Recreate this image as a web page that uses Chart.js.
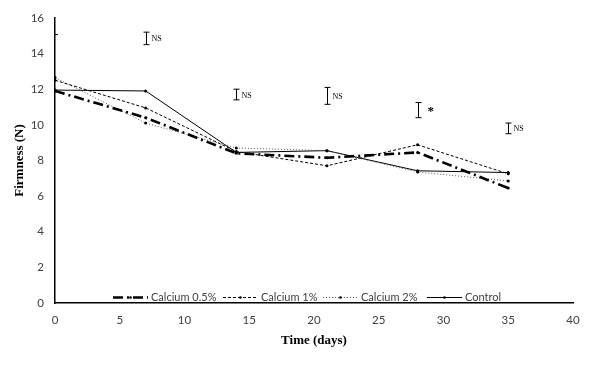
<!DOCTYPE html>
<html>
<head>
<meta charset="utf-8">
<script src="https://cdn.jsdelivr.net/npm/chart.js@4.4.1/dist/chart.umd.min.js"></script>
<style>
  html, body { margin: 0; padding: 0; background: #fff; }
  #wrap { width: 590px; height: 365px; }
</style>
</head>
<body>
<div id="wrap"><canvas id="firm" width="590" height="365"></canvas></div>
<script>
const days = [0, 7, 14, 21, 28, 35];
const ca05 = [11.9, 10.4, 8.4, 8.15, 8.45, 6.45];
const ca1 = [12.5, 10.95, 8.5, 7.7, 8.88, 7.25];
const ca2 = [12.65, 10.1, 8.7, 8.55, 7.35, 6.85];
const control = [11.95, 11.9, 8.45, 8.55, 7.42, 7.32];

// error bars drawn above each sampling day
const errDays = [7, 14, 21, 28, 35];
const errHigh = [15.2, 12.0, 12.1, 11.25, 10.1];
const errLow = [14.5, 11.4, 11.15, 10.4, 9.5];
const errLabels = ['NS', 'NS', 'NS', '*', 'NS'];

const xTicks = [0, 5, 10, 15, 20, 25, 30, 35, 40];
const yTicks = [0, 2, 4, 6, 8, 10, 12, 14, 16];

const pts = (ys) => days.map((d, i) => ({ x: d, y: ys[i] }));

const series = [
  { label: 'Calcium 0.5%', data: ca05, width: 2.6, dash: [10, 4, 2, 4], color: '#000' },
  { label: 'Calcium 1%', data: ca1, width: 1, dash: [3, 2], color: '#000' },
  { label: 'Calcium 2%', data: ca2, width: 1, dash: [1, 2], color: '#555' },
  { label: 'Control', data: control, width: 1, dash: [], color: '#000' }
];

const tickFont = { family: 'Lato, "Open Sans", sans-serif', size: 11.5 };

const errorBars = {
  id: 'errorBars',
  afterDatasetsDraw(chart) {
    const { ctx, scales: { x, y } } = chart;
    ctx.save();
    ctx.strokeStyle = '#000';
    ctx.lineWidth = 1;
    errDays.forEach((d, i) => {
      const px = Math.round(x.getPixelForValue(d)) + 0.5;
      const top = y.getPixelForValue(errHigh[i]);
      const bot = y.getPixelForValue(errLow[i]);
      ctx.beginPath();
      ctx.moveTo(px, top); ctx.lineTo(px, bot);
      ctx.moveTo(px - 3, top); ctx.lineTo(px + 3, top);
      ctx.moveTo(px - 3, bot); ctx.lineTo(px + 3, bot);
      ctx.stroke();
      ctx.fillStyle = '#000';
      ctx.textBaseline = 'middle';
      ctx.textAlign = 'left';
      if (errLabels[i] === '*') {
        ctx.font = 'bold 13px "Liberation Serif"';
        ctx.fillText('*', px + 9, (top + bot) / 2 + 2);
      } else {
        ctx.font = '8px "Liberation Serif"';
        ctx.fillText(errLabels[i], px + 5, (top + bot) / 2 + 1);
      }
    });
    // little stray cap at day 0
    const sy = Math.round(y.getPixelForValue(15.1)) + 0.5;
    const sx = x.getPixelForValue(0);
    ctx.beginPath();
    ctx.moveTo(sx, sy); ctx.lineTo(sx + 3, sy);
    ctx.stroke();
    ctx.restore();
  }
};

const innerLegend = {
  id: 'innerLegend',
  afterDraw(chart) {
    const { ctx } = chart;
    const ly = 297;
    const starts = [113, 223, 323, 427];
    ctx.save();
    ctx.font = '11px Lato, "Open Sans", sans-serif';
    ctx.textBaseline = 'middle';
    ctx.textAlign = 'left';
    series.forEach((s, i) => {
      const x0 = starts[i];
      ctx.strokeStyle = s.color;
      ctx.lineWidth = s.width;
      ctx.setLineDash(s.dash);
      ctx.beginPath();
      ctx.moveTo(x0, ly + 0.5); ctx.lineTo(x0 + 35, ly + 0.5);
      ctx.stroke();
      ctx.setLineDash([]);
      ctx.fillStyle = '#000';
      ctx.beginPath();
      ctx.arc(x0 + 17.5, ly + 0.5, 1.3, 0, Math.PI * 2);
      ctx.fill();
      ctx.fillStyle = '#404040';
      ctx.fillText(s.label, x0 + 38, ly);
    });
    ctx.restore();
  }
};

new Chart(document.getElementById('firm'), {
  type: 'line',
  data: {
    datasets: series.map(s => ({
      label: s.label,
      data: pts(s.data),
      borderColor: s.color,
      borderWidth: s.width,
      borderDash: s.dash,
      pointRadius: 1.5,
      pointBackgroundColor: '#000',
      pointBorderColor: '#000',
      pointBorderWidth: 0,
      tension: 0,
      fill: false
    }))
  },
  options: {
    responsive: false,
    animation: false,
    layout: { padding: { top: 9, right: 17, left: 8, bottom: 13 } },
    plugins: {
      legend: { display: false },
      tooltip: { enabled: false }
    },
    scales: {
      x: {
        type: 'linear',
        min: 0,
        max: 40,
        afterBuildTicks: (s) => { s.ticks = xTicks.map(v => ({ value: v })); },
        grid: { display: false, drawTicks: false },
        border: { display: true, color: '#000', width: 1.5 },
        ticks: { padding: 10, color: '#404040', font: tickFont },
        title: {
          display: true,
          text: 'Time (days)',
          color: '#000',
          padding: { top: 4 },
          font: { family: '"Liberation Serif", serif', size: 13, weight: 'bold' }
        },
        afterFit: (s) => { s.height = 49; }
      },
      y: {
        min: 0,
        max: 16,
        afterBuildTicks: (s) => { s.ticks = yTicks.map(v => ({ value: v })); },
        grid: { display: false, drawTicks: false },
        border: { display: true, color: '#000', width: 1.5 },
        ticks: { padding: 11, color: '#404040', font: tickFont },
        title: {
          display: true,
          text: 'Firmness (N)',
          color: '#000',
          font: { family: '"Liberation Serif", serif', size: 13, weight: 'bold' }
        },
        afterFit: (s) => { s.width = 47; }
      }
    }
  },
  plugins: [errorBars, innerLegend]
});
</script>
</body>
</html>
